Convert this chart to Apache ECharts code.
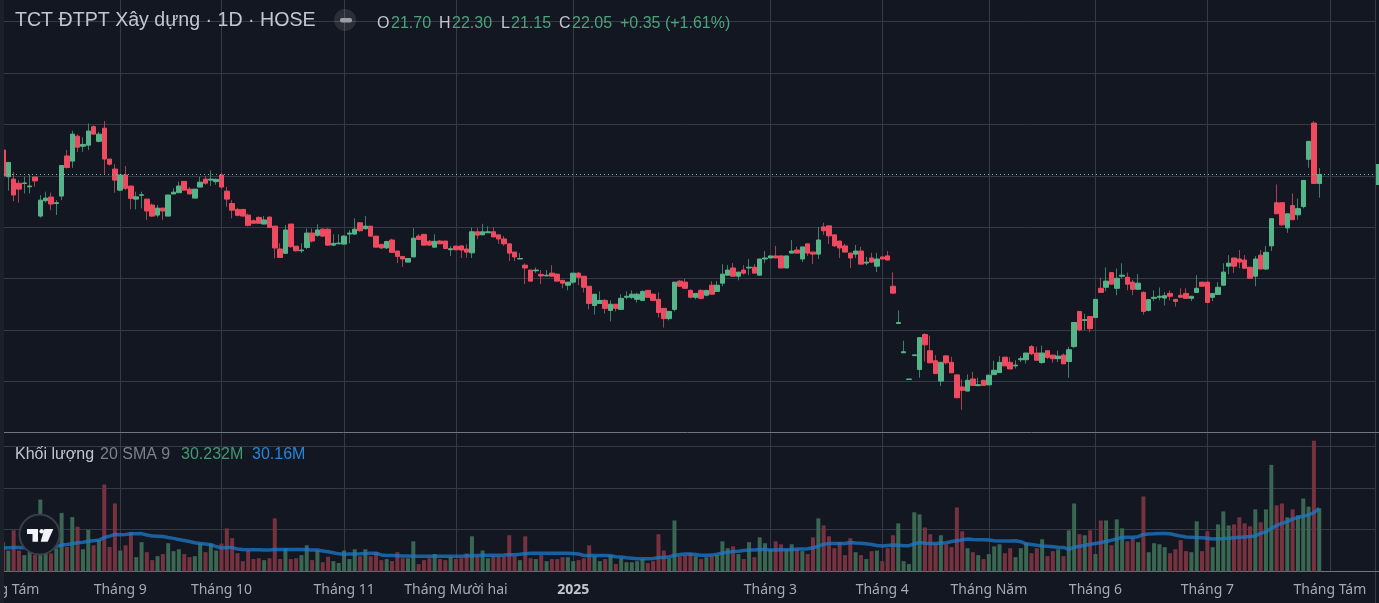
<!DOCTYPE html>
<html style="height: 100%">
<head>
<meta charset="utf-8">
<style>body { height: 100%; margin: 0; background: #131722; overflow: hidden; }</style>
</head>
<body>
<div id="container" style="width: 1379px; height: 603px"></div>
<script src="https://cdn.jsdelivr.net/npm/echarts@6/dist/echarts.min.js"></script>
<script>
// one entry per trading session
var opens = [
  23.00,21.96,21.87,21.71,21.70,21.57,21.95,20.43,21.03,21.17,
  20.92,21.21,22.77,22.57,23.54,23.15,23.19,23.91,23.34,23.85,
  22.65,22.26,21.44,22.03,21.60,21.09,21.24,21.09,20.86,20.47,
  20.74,20.43,21.29,21.34,21.78,21.48,21.13,21.56,21.87,21.83,
  21.77,22.03,21.40,20.92,20.69,20.69,20.47,20.25,20.38,20.12,
  20.39,20.04,19.15,18.98,20.12,19.26,19.08,19.21,19.77,19.68,
  19.92,19.92,19.30,19.35,19.34,19.73,19.73,20.17,19.94,20.04,
  19.65,19.33,19.19,19.50,19.07,18.86,18.64,18.84,19.65,19.72,
  19.45,19.22,19.46,19.46,19.12,19.26,19.27,19.15,19.00,19.82,
  19.70,19.78,19.82,19.70,19.54,19.35,19.03,18.76,18.52,18.33,
  18.30,18.16,18.10,18.21,18.17,17.93,17.74,17.86,18.21,18.09,
  17.70,16.95,17.03,17.15,16.76,17.00,16.80,17.27,17.27,17.19,
  17.15,17.54,17.39,17.19,16.84,16.44,16.80,17.90,17.86,17.54,
  17.27,17.54,17.35,17.74,17.50,17.82,18.13,18.41,18.09,18.33,
  18.41,18.44,18.13,18.76,18.80,18.88,18.88,18.41,18.99,19.11,
  18.76,19.35,19.03,18.95,20.01,20.05,19.70,19.46,19.27,18.99,
  18.95,19.07,18.60,18.80,18.48,18.84,18.88,17.70,16.25,15.11,
  14.07,15.00,14.46,15.82,15.19,14.80,14.01,14.99,14.74,14.25,
  13.78,13.62,14.09,13.83,14.04,13.86,14.26,14.34,14.94,14.74,
  14.60,14.84,14.84,15.35,15.10,14.73,15.19,15.02,14.88,15.02,
  14.77,15.35,16.72,16.37,16.52,16.48,17.62,17.66,18.23,17.62,
  18.09,18.05,17.86,17.58,17.46,16.76,17.23,17.27,17.24,17.42,
  17.19,17.35,17.42,17.23,17.46,17.86,17.86,17.27,17.38,17.74,
  18.48,18.80,18.76,18.72,18.44,18.09,18.91,18.37,19.27,20.95,
  20.95,19.97,20.84,20.48,20.80,22.64,24.05,21.70
];
var closes = [
  21.99,22.52,21.25,21.48,21.72,21.60,21.80,21.05,21.13,20.90,
  20.95,22.40,22.32,23.62,23.11,23.22,23.74,23.62,23.62,22.65,
  22.45,21.83,22.03,21.51,21.12,21.18,21.26,20.63,20.43,20.74,
  20.63,21.25,21.36,21.60,21.44,21.29,21.48,21.75,21.71,21.87,
  21.86,21.56,21.09,20.66,20.46,20.43,20.07,20.15,20.15,20.28,
  19.99,19.19,18.82,19.89,19.24,19.08,19.11,19.77,19.46,19.89,
  19.65,19.30,19.37,19.38,19.65,19.77,19.92,19.86,20.04,19.65,
  19.22,19.19,19.44,19.02,18.86,18.76,18.78,19.57,19.52,19.30,
  19.30,19.45,19.35,19.17,19.16,19.12,19.11,19.03,19.82,19.69,
  19.82,19.82,19.62,19.54,19.35,18.99,18.84,18.78,18.41,17.90,
  18.33,18.10,18.13,18.09,17.90,17.82,17.86,18.21,18.05,17.66,
  17.03,17.39,17.15,16.84,17.00,16.84,17.23,17.31,17.39,17.39,
  17.50,17.27,17.15,16.68,16.44,16.72,17.86,17.70,17.62,17.27,
  17.42,17.23,17.54,17.39,17.74,18.17,18.33,18.09,18.25,18.21,
  18.44,18.21,18.76,18.80,18.88,18.80,18.41,18.88,19.07,18.99,
  19.23,18.99,18.95,19.50,19.86,19.66,19.27,19.19,19.03,18.80,
  19.07,18.56,18.64,18.64,18.76,18.76,18.72,17.43,16.29,15.15,
  14.09,15.03,15.70,15.42,14.72,14.30,14.74,14.72,14.33,13.36,
  13.65,14.04,13.84,13.87,13.84,14.24,14.43,14.74,14.60,14.48,
  14.63,14.88,15.10,15.07,14.82,15.10,14.93,14.88,14.98,14.68,
  15.23,16.29,16.00,16.40,16.05,17.19,17.46,17.90,17.78,18.01,
  18.13,17.78,17.58,17.82,16.72,17.18,17.27,17.31,17.33,17.31,
  17.11,17.27,17.23,17.31,17.62,17.70,17.07,17.42,17.66,18.25,
  18.60,18.48,18.64,18.40,18.01,18.76,18.37,19.02,20.33,20.52,
  20.09,20.52,20.29,20.72,21.82,23.34,21.70,22.05
];
var highs = [
  23.00,22.52,22.15,21.83,21.96,22.05,21.95,21.25,21.38,21.34,
  21.05,22.40,23.00,23.75,23.61,23.50,24.04,23.96,23.71,24.13,
  22.65,22.45,22.03,22.38,21.60,21.38,21.38,21.09,20.92,20.86,
  20.74,21.25,21.51,21.77,21.78,21.55,21.48,21.96,22.00,22.21,
  21.90,22.12,21.57,21.05,20.75,20.69,20.53,20.30,20.42,20.43,
  20.42,20.04,19.37,20.08,20.12,19.26,19.37,19.95,19.95,20.11,
  19.95,19.95,19.72,19.72,19.69,19.89,20.34,20.20,20.43,20.04,
  19.65,19.33,19.47,19.55,19.07,18.86,18.80,19.96,19.72,19.72,
  19.50,19.72,19.50,19.46,19.26,19.28,19.27,19.33,19.99,19.96,
  20.13,20.03,20.00,19.70,19.66,19.35,19.03,18.99,18.59,18.33,
  18.43,18.33,18.33,18.52,18.20,17.93,17.86,18.21,18.25,18.09,
  17.70,17.39,17.50,17.20,17.15,17.00,17.39,17.50,17.54,17.44,
  17.54,17.54,17.42,17.46,16.84,16.72,17.86,17.94,17.99,17.58,
  17.42,17.58,17.54,17.90,17.90,18.56,18.52,18.60,18.25,18.52,
  18.76,18.56,18.76,19.07,18.88,19.27,18.88,18.88,19.50,19.24,
  19.23,19.35,19.03,20.01,20.17,20.05,19.70,19.46,19.35,18.99,
  19.31,19.23,18.84,19.00,19.00,18.84,19.07,18.24,16.76,15.58,
  14.09,15.03,15.70,15.87,15.78,15.02,14.74,14.99,14.95,14.25,
  14.08,14.27,14.37,14.14,14.04,14.24,14.80,14.98,14.94,14.95,
  14.82,14.98,15.10,15.41,15.35,15.39,15.19,15.02,15.19,15.08,
  15.35,16.29,16.72,16.63,16.55,17.19,18.04,18.43,18.23,18.39,
  18.59,18.23,17.95,18.17,17.50,17.18,17.54,17.65,17.47,17.54,
  17.19,17.62,17.62,17.31,18.13,17.86,17.86,17.42,17.86,18.59,
  18.91,18.80,19.11,18.91,18.44,18.87,19.11,19.27,20.33,21.66,
  20.95,20.52,21.31,21.11,21.82,23.34,24.12,22.30
];
var lows = [
  21.99,21.42,21.01,20.95,21.31,21.31,21.57,20.37,20.95,20.66,
  20.47,21.05,22.28,22.31,22.92,22.93,23.00,23.60,23.30,22.06,
  22.40,21.34,21.40,21.44,20.69,20.69,20.73,20.28,20.40,20.38,
  20.28,20.43,21.29,21.34,21.44,21.29,21.13,21.56,21.65,21.60,
  21.65,21.50,20.79,20.34,20.42,20.43,20.03,20.15,20.15,20.12,
  19.99,18.78,18.80,18.95,19.20,19.05,19.00,19.15,19.40,19.62,
  19.62,19.28,19.26,19.35,19.34,19.37,19.70,19.83,19.90,19.65,
  19.22,19.15,19.15,19.00,18.60,18.45,18.64,18.84,19.50,19.30,
  19.28,19.20,19.35,19.15,18.87,19.10,18.80,18.81,18.80,19.53,
  19.70,19.78,19.60,19.35,19.27,18.68,18.68,18.76,17.78,17.90,
  18.22,17.78,18.10,18.07,17.88,17.62,17.54,17.80,17.74,17.46,
  16.80,16.60,17.03,16.64,16.33,16.72,16.80,17.19,17.20,17.07,
  17.15,17.27,17.15,16.48,16.09,16.37,16.72,17.68,17.62,17.23,
  17.19,17.20,17.31,17.39,17.50,17.70,18.13,18.09,17.93,18.15,
  18.13,18.21,18.13,18.60,18.80,18.80,18.41,18.41,18.99,18.99,
  18.64,18.88,18.56,18.76,19.70,19.35,19.23,18.80,19.03,18.41,
  18.80,18.56,18.52,18.60,18.25,18.76,18.72,17.43,16.25,15.11,
  14.07,15.00,14.14,14.77,14.72,14.30,13.82,14.65,14.33,13.36,
  12.89,13.62,13.84,13.83,13.84,13.86,14.26,14.34,14.60,14.48,
  14.50,14.75,14.69,15.02,14.82,14.68,14.87,14.73,14.75,14.68,
  14.14,15.30,15.95,16.00,15.91,16.48,17.46,17.50,17.75,17.35,
  18.00,17.54,17.35,17.58,16.60,16.72,17.12,17.15,16.95,17.15,
  16.91,17.27,17.23,17.12,17.46,17.70,17.07,17.12,17.38,17.74,
  18.17,18.22,18.40,18.40,18.01,17.70,18.37,18.33,19.07,20.52,
  20.05,19.78,20.29,20.29,20.73,22.31,21.70,21.15
];
// volume in millions
var volumes = [
  14,10,19.7,10,7.8,9.4,7.8,34.4,11.7,8.6,
  11,28,11.7,26,21.4,10.6,20,12.5,15,41.6,
  11.7,32.5,10,12.5,18.9,6.8,14,9.2,5.4,7.3,
  8.3,13.5,9.7,10.6,8.3,6.8,7.3,13.5,9.2,13.3,
  10,13.3,20.6,15.9,8.7,4.9,10,5.9,6.3,5.4,
  6.3,25.4,5.9,11.1,5.9,6.3,7.8,12.5,5.4,10,
  4.4,7,4.9,4,10,5.9,10.6,7.3,10.6,7.3,
  9.2,5.4,5.9,4.9,9.2,6.3,6.3,14.4,3.5,5.4,
  6.3,8.3,5.9,5.4,7,5.9,6.3,8.6,16.8,7.3,
  10,6.3,7.3,7.3,7.3,17.3,7.3,5.4,16.8,6.3,
  5.9,7.8,4.9,5.9,5.9,6.8,6.8,4.9,5.4,6.3,
  12.5,7.3,4.9,5.9,7.8,3.5,6.3,4.4,4.4,4.9,
  5.9,4,4.9,17.8,10,6.3,24.4,7.3,7.8,8.7,
  7.3,5.9,6.8,7.3,7.8,14.4,11.1,12,8.3,5.9,
  14,6.8,16.3,13.5,10.6,14.4,13,10.6,13,10.6,
  9.7,8.3,16.3,25.4,22,16.8,11.1,14,7.8,15.9,
  9.2,7.8,5.9,9.7,10,4.9,11.1,17.3,23,4.9,
  3.5,28.3,27.3,21,17.8,13.3,17.3,13,11.6,30.6,
  19.2,11.1,9.2,7.8,5.9,8.3,12,13,8.7,11.1,
  6.8,11.1,13.5,8.7,11.1,15.4,7.3,9.7,10.6,7.3,
  19.7,32.5,17.8,17.3,19.7,8.3,24.4,24.4,12.5,24.9,
  20.6,14.4,15.9,14,35.9,9.2,13.5,13,11.6,8.7,
  10.6,15,9.7,9.2,24,9.7,19.2,11.6,22.5,28.7,
  22,22.5,25.9,23,21.6,29.7,23.5,29.7,51,31.6,
  32.5,25.9,29.7,26.8,34.9,31,62.5,30.232
];
// the SMA 9 line over the volume, in millions
var smaValues = [
  11.2,11.3,11.4,11.4,11.3,11.1,10.8,10.7,10.9,11.3,
  12.0,12.6,12.9,13.3,13.7,14.0,14.4,14.7,15.0,16.2,
  16.9,17.7,17.6,17.7,18.0,18.0,18.1,17.4,16.9,16.8,
  16.7,16.2,15.8,15.3,14.8,14.3,13.7,13.4,13.1,12.8,
  11.9,11.2,11.4,11.4,10.7,10.5,10.4,10.4,10.4,10.3,
  10.3,10.5,10.5,10.5,10.5,10.5,10.5,10.4,10.3,10.2,
  9.8,9.4,8.9,8.4,8.2,8.3,8.3,8.4,8.6,8.7,
  8.7,7.9,7.6,7.6,7.5,7.4,7.4,7.3,7.3,7.3,
  7.3,7.3,7.3,7.3,7.3,7.3,7.3,7.4,7.5,7.6,
  7.7,7.7,7.7,7.7,7.8,8.0,8.0,8.2,8.5,8.7,
  8.7,8.7,8.7,8.7,8.7,8.7,8.7,8.6,8.3,7.6,
  7.6,7.6,7.6,7.6,7.5,7.0,6.9,6.5,6.3,6.1,
  6.0,6.0,6.2,6.6,6.7,7.0,7.6,8.1,8.3,8.3,
  8.1,7.7,7.7,7.8,8.2,8.8,9.2,9.5,9.7,10.0,
  10.2,10.2,10.5,10.5,10.3,10.2,10.4,10.4,10.4,10.7,
  10.7,10.8,11.3,12.1,13.0,13.3,13.3,13.3,13.4,13.8,
  13.6,13.5,13.2,12.9,12.4,12.2,12.4,12.6,12.5,12.3,
  12.3,13.2,13.8,13.5,13.3,13.4,13.6,13.7,14.3,14.7,
  15.1,15.5,15.3,15.2,15.1,15.0,14.7,14.5,14.5,14.6,
  14.7,14.2,13.2,12.9,12.5,12.2,12.0,11.8,11.6,11.5,
  10.5,11.6,12.0,12.4,13.0,13.4,13.8,14.3,14.9,15.6,
  16.2,16.4,16.4,16.6,17.7,17.9,18.0,18.2,18.2,18.0,
  17.4,16.9,16.5,16.4,16.2,16.1,15.9,15.5,15.6,15.7,
  15.9,16.1,16.3,16.5,16.7,17.0,18.2,19.0,20.5,22.0,
  23.0,23.8,25.0,25.9,26.4,27.0,28.2,30.16
];

// time axis labels and the session each one sits on
var tickSessions = [0, 22, 41, 64, 85, 107, 144, 165, 185, 205, 226, 249];
var tickLabels = ['Tháng Tám', 'Tháng 9', 'Tháng 10', 'Tháng 11', 'Tháng Mười hai', '2025', 'Tháng 3', 'Tháng 4', 'Tháng Năm', 'Tháng 6', 'Tháng 7', 'Tháng Tám'];
var yearLabel = '2025';
var lastClose = 22.05;

var titleText = 'TCT ĐTPT Xây dựng · 1D · HOSE';
var ohlcLetters = ['O', 'H', 'L', 'C'];
var ohlcValues = ['21.70', '22.30', '21.15', '22.05'];
var changeText = '+0.35 (+1.61%)';
var volumeName = 'Khối lượng';
var volumeParams = '20 SMA 9';
var volumeValue = '30.232M';
var smaValue = '30.16M';

var upColor = '#55b489';
var downColor = '#ee4b60';
var upWick = '#3f806a';
var downWick = '#a8404f';
var upVolume = '#3a6652';
var downVolume = '#76323f';
var gridColor = '#363a46';
var edgeColor = '#72757f';
var textFont = '"Liberation Sans", Arial, sans-serif';

// wicks sit in their own dimmer layer, the bodies go on top with no wick
var wickCandles = opens.map(function (o, i) {
    return [i, o, closes[i], lows[i], highs[i]];
});
var bodyCandles = opens.map(function (o, i) {
    return [i, o, closes[i], Math.min(o, closes[i]), Math.max(o, closes[i])];
});
var volumeBars = volumes.map(function (v, i) {
    return {
        value: [i, v],
        itemStyle: {color: closes[i] >= opens[i] ? upVolume : downVolume}
    };
});
var smaPoints = smaValues.map(function (v, i) {
    return [i, v];
});

function label(text, x, y, font, fill) {
    return {
        type: 'text',
        z: 100,
        silent: true,
        style: {text: text, x: x, y: y, font: font, fill: fill, textVerticalAlign: 'middle'}
    };
}

var ohlcX = [[377, 391], [439, 452], [501, 511], [559, 572]];
var headFont = '16px ' + textFont;
var graphics = [
    // left strip and right frame of the pane
    {type: 'rect', z: 90, silent: true, shape: {x: 0, y: 0, width: 4, height: 603}, style: {fill: '#1c2029'}},
    {type: 'line', z: 90, silent: true, shape: {x1: 1375.5, y1: 0, x2: 1375.5, y2: 603}, style: {stroke: gridColor, lineWidth: 1}},
    {type: 'line', z: 90, silent: true, shape: {x1: 1375, y1: 571.5, x2: 1379, y2: 571.5}, style: {stroke: edgeColor, lineWidth: 1}},
    {type: 'line', z: 90, silent: true, shape: {x1: 1375, y1: 432.5, x2: 1379, y2: 432.5}, style: {stroke: edgeColor, lineWidth: 1}},
    // stub of the price tag, cut by the window edge
    {type: 'rect', z: 90, silent: true, shape: {x: 1376, y: 164, width: 3, height: 21}, style: {fill: upColor}},
    // collapse button
    {type: 'circle', z: 100, silent: true, shape: {cx: 345, cy: 20, r: 11}, style: {fill: 'rgba(255,255,255,0.1)'}},
    {type: 'rect', z: 101, silent: true, shape: {x: 340, y: 18, width: 12, height: 4.5, r: 2}, style: {fill: '#9a9da6'}},
    // logo
    {type: 'circle', z: 100, silent: true, shape: {cx: 39.5, cy: 534.5, r: 20}, style: {fill: '#131722', stroke: '#3a3e49', lineWidth: 2}},
    {type: 'polygon', z: 101, silent: true, shape: {points: [[27, 529], [38, 529], [38, 541.7], [32.5, 541.7], [32.5, 534], [27, 534]]}, style: {fill: '#f0f3fa'}},
    {type: 'circle', z: 101, silent: true, shape: {cx: 41.7, cy: 531.3, r: 2.3}, style: {fill: '#f0f3fa'}},
    {type: 'polygon', z: 101, silent: true, shape: {points: [[44.3, 529], [53.3, 529], [47.7, 541.7], [40.7, 541.7]]}, style: {fill: '#f0f3fa'}},
    // header
    label(titleText, 15, 20.5, '19.6px ' + textFont, '#c3c6ce'),
    label(changeText, 620, 23.5, headFont, '#4ba37c'),
    label(volumeName, 15, 454.5, headFont, '#c3c6ce'),
    label(volumeParams, 100, 454.5, headFont, '#7d808a'),
    label(volumeValue, 181, 454.5, headFont, '#3f9a72'),
    label(smaValue, 252, 454.5, headFont, '#1f88dc')
];
ohlcLetters.forEach(function (letter, i) {
    graphics.push(label(letter, ohlcX[i][0], 23.5, headFont, '#c3c6ce'));
    graphics.push(label(ohlcValues[i], ohlcX[i][1], 23.5, headFont, '#4ba37c'));
});

var timeAxisBase = {
    type: 'value',
    min: -0.563,
    max: 257.46,
    axisTick: {show: false, customValues: tickSessions},
    splitLine: {show: true, lineStyle: {color: gridColor, width: 1}}
};

var option = {
    animation: false,
    backgroundColor: '#131722',
    grid: [
        {left: 0, top: 0, width: 1375, height: 432.7, outerBoundsMode: 'none'},
        {left: 0, top: 432.7, width: 1375, height: 138.7, outerBoundsMode: 'none'}
    ],
    xAxis: [
        echarts.util.merge({
            gridIndex: 0,
            axisLine: {show: true, onZero: false, lineStyle: {color: edgeColor}},
            axisLabel: {show: false}
        }, timeAxisBase),
        echarts.util.merge({
            gridIndex: 1,
            axisLine: {show: true, onZero: false, lineStyle: {color: edgeColor}},
            axisLabel: {
                show: true,
                customValues: tickSessions,
                hideOverlap: false,
                margin: 12,
                fontFamily: '"Noto Sans"',
                fontSize: 14,
                color: '#a6a9b2',
                formatter: function (value) {
                    var text = tickLabels[tickSessions.indexOf(value)];
                    return text === yearLabel ? '{year|' + text + '}' : text;
                },
                rich: {year: {fontFamily: '"Noto Sans"', fontSize: 14, fontWeight: 'bold', color: '#c3c6ce'}}
            }
        }, timeAxisBase)
    ],
    yAxis: [{
        type: 'value',
        gridIndex: 0,
        min: 12,
        max: 28.84,
        interval: 2,
        axisLine: {show: false},
        axisTick: {show: false},
        axisLabel: {show: false},
        splitLine: {show: true, showMinLine: false, showMaxLine: false, lineStyle: {color: gridColor}}
    }, {
        type: 'value',
        gridIndex: 1,
        min: 0,
        max: 66.4,
        interval: 20,
        axisLine: {show: false},
        axisTick: {show: false},
        axisLabel: {show: false},
        splitLine: {show: true, showMinLine: false, showMaxLine: false, lineStyle: {color: gridColor}}
    }],
    series: [{
        type: 'candlestick',
        xAxisIndex: 0,
        yAxisIndex: 0,
        clip: false,
        barWidth: 1,
        encode: {x: 0, y: [1, 2, 3, 4]},
        data: wickCandles,
        itemStyle: {
            color: upWick,
            color0: downWick,
            borderColor: upWick,
            borderColor0: downWick,
            borderWidth: 1
        }
    }, {
        type: 'candlestick',
        xAxisIndex: 0,
        yAxisIndex: 0,
        clip: false,
        barWidth: 5,
        encode: {x: 0, y: [1, 2, 3, 4]},
        data: bodyCandles,
        itemStyle: {
            color: upColor,
            color0: downColor,
            borderColor: upColor,
            borderColor0: downColor,
            borderWidth: 1
        },
        markLine: {
            silent: true,
            symbol: 'none',
            label: {show: false},
            lineStyle: {color: '#7fc4a6', type: [1, 3], width: 1},
            data: [{yAxis: lastClose}]
        }
    }, {
        type: 'bar',
        xAxisIndex: 1,
        yAxisIndex: 1,
        barWidth: 4,
        data: volumeBars
    }, {
        type: 'line',
        xAxisIndex: 1,
        yAxisIndex: 1,
        showSymbol: false,
        data: smaPoints,
        lineStyle: {color: '#1e78c8', width: 3.5, opacity: 0.75}
    }],
    graphic: graphics
};

var myChart = echarts.init(document.getElementById('container'));
myChart.setOption(option);
</script>
</body>
</html>
